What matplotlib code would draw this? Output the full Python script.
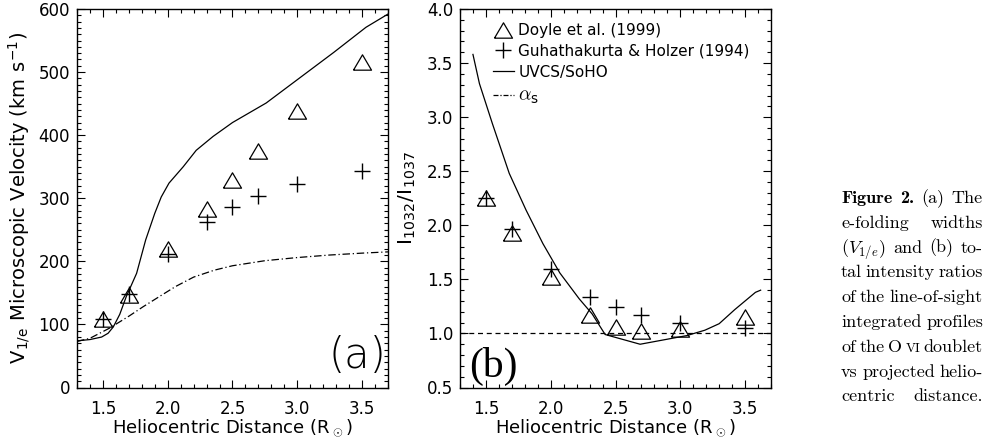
import matplotlib
matplotlib.use("Agg")
import matplotlib.pyplot as plt
from matplotlib.lines import Line2D
from matplotlib.ticker import MultipleLocator
import numpy as np

plt.rcParams['font.family'] = ['DejaVu Sans']
plt.rcParams['mathtext.fontset'] = 'cm'

# ---------------- data ----------------
r_obs = [1.5, 1.7, 2.0, 2.3, 2.5, 2.7, 3.0, 3.5]

# panel (a): V_1/e (km/s)
va_doyle = [108, 147, 219, 283, 329, 375, 438, 516]
va_guha = [109, 148, 212, 263, 286, 304, 323, 343]
ra_uvcs = [1.30, 1.40, 1.49, 1.54, 1.58, 1.63, 1.68, 1.76, 1.83, 1.90, 1.95, 2.01,
           2.12, 2.22, 2.35, 2.50, 2.76, 3.02, 3.28, 3.53, 3.70]
va_uvcs = [74, 76, 80, 86, 96, 116, 144, 181, 234, 276, 302, 324,
           350, 376, 398, 420, 451, 491, 531, 571, 592]
ra_alpha = [1.30, 1.40, 1.55, 1.70, 1.81, 1.95, 2.06, 2.20, 2.36, 2.50, 2.75, 3.00,
            3.25, 3.50, 3.70]
va_alpha = [73, 78, 94, 113, 128, 146, 160, 175, 186, 193, 201, 206, 210, 213, 215]

# panel (b): I1032/I1037
ib_doyle = [2.25, 1.93, 1.52, 1.17, 1.06, 1.02, 1.04, 1.15]
ib_guha = [2.25, 1.97, 1.60, 1.34, 1.24, 1.17, 1.10, 1.05]
rb_uvcs = [1.40, 1.45, 1.55, 1.68, 1.81, 1.94, 2.07, 2.22, 2.32, 2.42, 2.69,
           3.05, 3.19, 3.30, 3.42, 3.58, 3.62]
ib_uvcs = [3.58, 3.31, 2.94, 2.48, 2.14, 1.83, 1.56, 1.32, 1.18, 0.99, 0.90,
           0.98, 1.03, 1.09, 1.22, 1.38, 1.40]
alpha_s_b = 1.0

legend_labels = ["Doyle et al. (1999)", "Guhathakurta & Holzer (1994)",
                 "UVCS/SoHO", r"$\alpha_\mathregular{s}$"]

# ---------------- figure ----------------
fig = plt.figure(figsize=(9.9, 4.42), dpi=100)
W, H = 990.0, 442.0
ax1 = fig.add_axes([77 / W, (H - 387.5) / H, 311 / W, 378.5 / H])
ax2 = fig.add_axes([460 / W, (H - 387.5) / H, 311 / W, 378.5 / H])

tri = [(-1.0, -0.85), (0.0, 0.85), (1.0, -0.85), (-1.0, -0.85)]
tri_kw = dict(marker=tri, ms=13, mfc='none', mec='black', mew=0.9, ls='none')
plus_kw = dict(marker='+', ms=12, mec='black', mew=1.0, ls='none')
dashdot = (0, (6, 2.2, 1, 2.2))

for ax in (ax1, ax2):
    ax.set_xlim(1.3, 3.7)
    ax.xaxis.set_major_locator(MultipleLocator(0.5))
    ax.xaxis.set_minor_locator(MultipleLocator(0.1))
    ax.tick_params(which='both', direction='in', top=True, right=True,
                   width=0.8, labelsize=12)
    ax.tick_params(which='major', length=6)
    ax.tick_params(which='minor', length=3)
    ax.tick_params(axis='x', pad=9)
    ax.tick_params(axis='y', pad=5)
    for s in ax.spines.values():
        s.set_linewidth(1.0)
    ax.set_xlabel(r"Heliocentric Distance (R$_\odot$)", fontsize=13, labelpad=0)

# panel (a)
ax1.plot(ra_uvcs, va_uvcs, color='black', lw=0.9)
ax1.plot(ra_alpha, va_alpha, color='black', lw=0.9, ls=dashdot)
ax1.plot(r_obs, va_doyle, **tri_kw)
ax1.plot(r_obs, va_guha, **plus_kw)
ax1.set_ylim(0, 600)
ax1.yaxis.set_major_locator(MultipleLocator(100))
ax1.yaxis.set_minor_locator(MultipleLocator(10))
ax1.set_ylabel(r"V$_\mathregular{1/e}$ Microscopic Velocity (km s$^\mathregular{-1}$)",
               fontsize=14, labelpad=4)
ax1.text(0.995, 0.03, "(a)", transform=ax1.transAxes, ha='right', va='bottom',
         fontsize=30, family='DejaVu Sans', fontweight='light')

# panel (b)
ax2.plot(rb_uvcs, ib_uvcs, color='black', lw=0.9)
ax2.axhline(alpha_s_b, color='black', lw=0.9, ls=(0, (4, 3)))
ax2.plot(r_obs, ib_doyle, **tri_kw)
ax2.plot(r_obs, ib_guha, **plus_kw)
ax2.set_ylim(0.5, 4.0)
ax2.yaxis.set_major_locator(MultipleLocator(0.5))
ax2.yaxis.set_minor_locator(MultipleLocator(0.1))
ax2.yaxis.set_major_formatter(matplotlib.ticker.FormatStrFormatter('%.1f'))
ax2.set_ylabel(r"I$_\mathregular{1032}$/I$_\mathregular{1037}$", fontsize=14.5, labelpad=6)
ax2.text(0.03, 0.005, "(b)", transform=ax2.transAxes, ha='left', va='bottom',
         fontsize=30, family='Liberation Serif')

handles = [Line2D([], [], **tri_kw), Line2D([], [], **plus_kw),
           Line2D([], [], color='black', lw=0.9),
           Line2D([], [], color='black', lw=0.9, ls=(0, (4, 1.5, 1, 1.5)))]
leg = ax2.legend(handles, legend_labels, loc='upper left',
                 bbox_to_anchor=((493 - 460) / 311, (387.5 - 23) / 378.5),
                 frameon=False, fontsize=11, handlelength=1.35, handletextpad=0.3,
                 labelspacing=0.38, borderpad=0, borderaxespad=0)
leg.get_texts()[3].set_fontsize(14)

# ---------------- caption (justified) ----------------
R_ = 'cmr10'
B_ = 'cmb10'
FS = 13.0
cap_lines = [
    [("Figure", B_, FS), ("2.", B_, FS), ("(a)", R_, FS), ("The", R_, FS)],
    [("e-folding", R_, FS), ("widths", R_, FS)],
    [(r"$(V_{1/e})$", R_, FS), ("and", R_, FS), ("(b)", R_, FS), ("to-", R_, FS)],
    [("tal", R_, FS), ("intensity", R_, FS), ("ratios", R_, FS)],
    [("of", R_, FS), ("the", R_, FS), ("line-of-sight", R_, FS)],
    [("integrated", R_, FS), ("profiles", R_, FS)],
    [("of", R_, FS), ("the", R_, FS), ("O", R_, FS), ("VI", R_, 9.6), ("doublet", R_, FS)],
    [("vs", R_, FS), ("projected", R_, FS), ("helio-", R_, FS)],
    [("centric", R_, FS), ("distance.", R_, FS)],
]
x_left, x_right = 841.0, 983.0
y0, dy = 203.0, 24.8
renderer = fig.canvas.get_renderer()
for i, words in enumerate(cap_lines):
    yb = 1 - (y0 + i * dy) / H
    texts = []
    widths = []
    for w, fam, fs in words:
        t = fig.text(0, yb, w, family=fam, fontsize=fs, ha='left', va='baseline')
        texts.append(t)
        widths.append(t.get_window_extent(renderer).width)
    total = sum(widths)
    ngap = len(words) - 1
    gap = (x_right - x_left - total) / ngap if ngap else 0
    x = x_left
    for t, wd in zip(texts, widths):
        t.set_x(x / W)
        x += wd + gap

fig.savefig("out.png", dpi=100)
